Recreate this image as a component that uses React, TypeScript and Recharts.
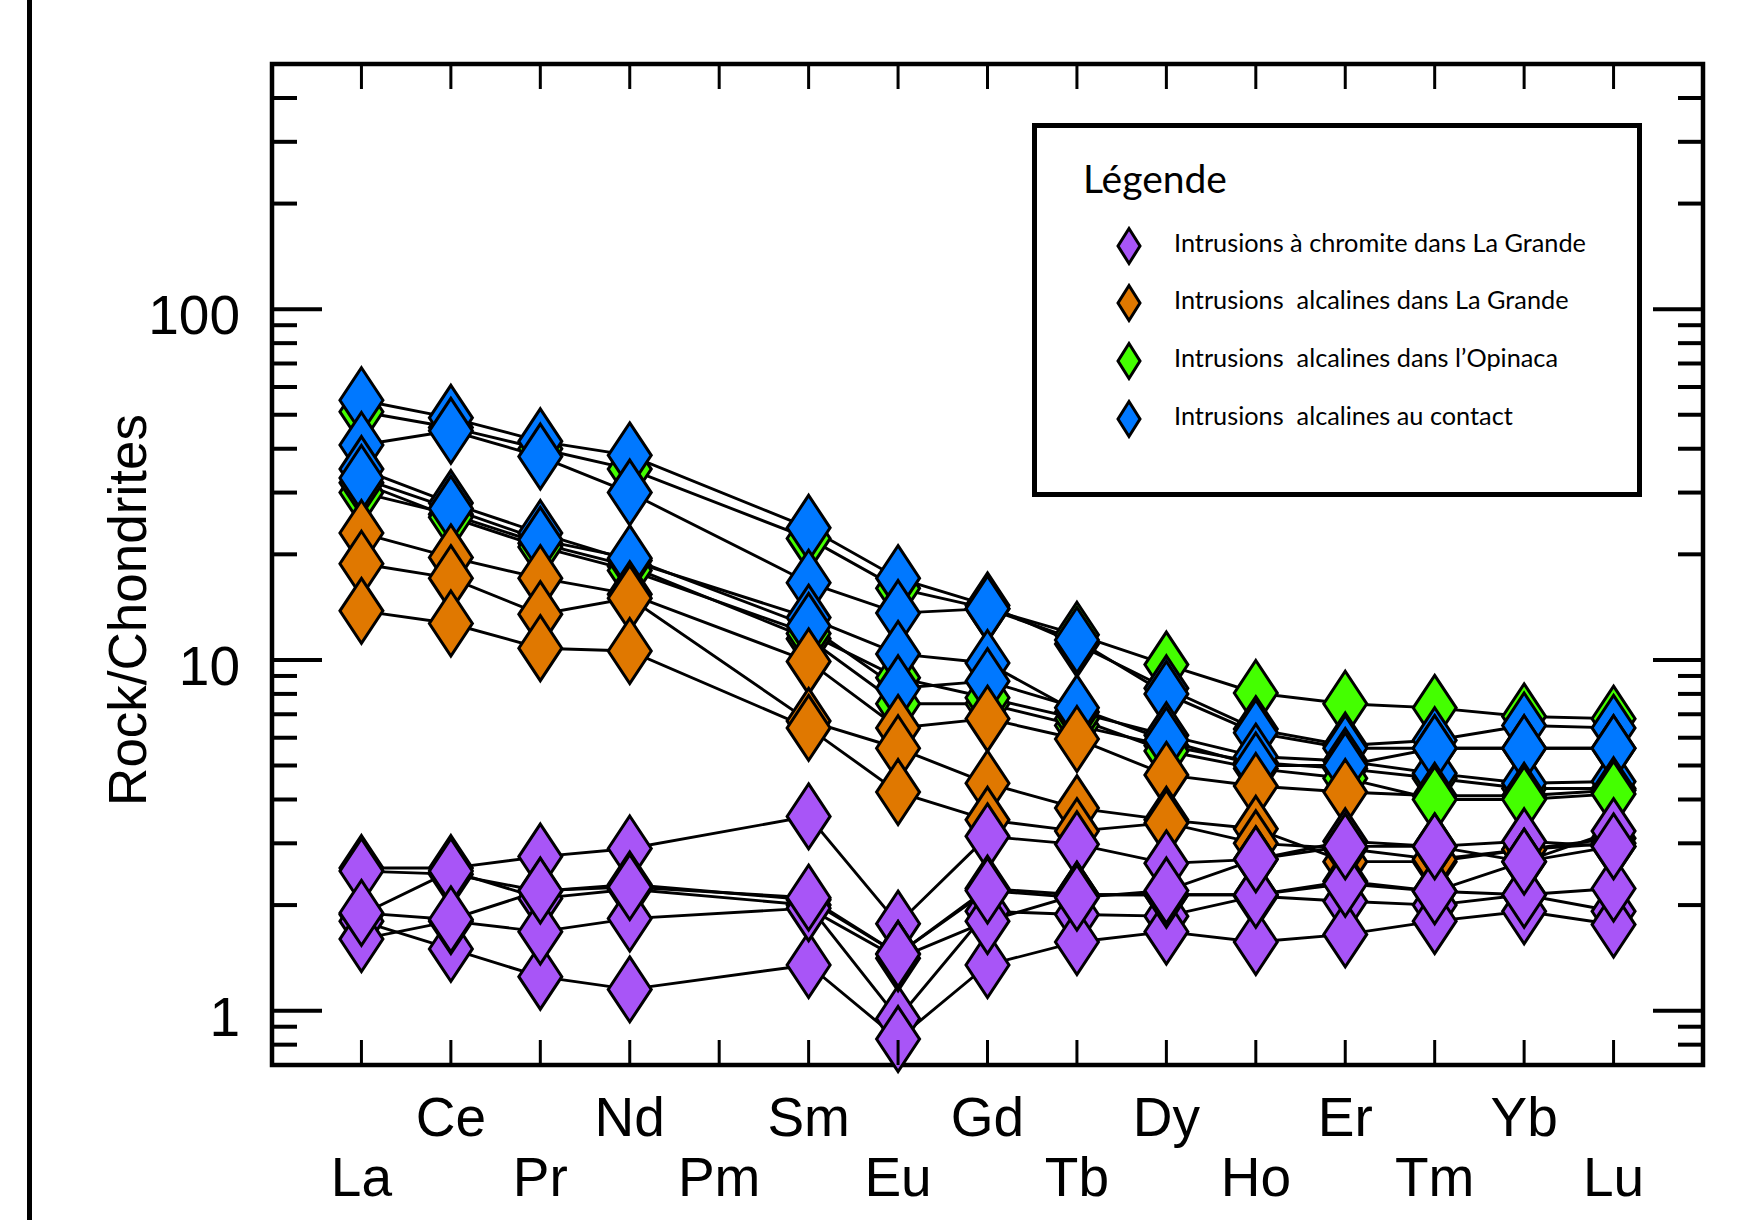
import React from "react";
import { LineChart, Line, XAxis, YAxis, ReferenceArea, Legend } from "recharts";

// plot frame, in page pixels
const PLOT_LEFT = 272;
const PLOT_TOP = 64;
const PLOT_RIGHT = 1703;
const PLOT_BOTTOM = 1065;
const CHART_W = 1754;
const CHART_H = 1220;

const elements = ["La", "Ce", "Pr", "Nd", "Pm", "Sm", "Eu", "Gd", "Tb", "Dy", "Ho", "Er", "Tm", "Yb", "Lu"];

// Rock/Chondrites, Pm not analysed (null)
const chr1 = [2.55, 2.55, 2.75, 2.9, null, 3.58, 1.77, 3.14, 2.98, 2.63, 2.7, 3.04, 2.94, 3.04, 2.94];
const chr2 = [2.5, 2.45, 2.19, 2.29, null, 2.07, 1.45, 2.23, 2.14, 2.14, 2.14, 2.34, 2.19, 2.66, 3.25];
const chr3 = [1.88, 2.5, 2.09, 2.22, null, 2.0, 0.95, 1.92, 1.88, 1.86, 2.12, 2.05, 2.0, 2.14, 1.92];
const chr4 = [1.8, 1.5, 1.25, 1.15, null, 1.35, 0.83, 1.35, 1.57, 1.68, 1.57, 1.65, 1.8, 1.92, 1.76];
const chr5 = [1.6, 1.8, 1.68, 1.83, null, 1.96, 1.41, 1.8, 2.14, 2.14, 2.14, 2.3, 2.19, 2.14, 2.23];
const chr6 = [1.9, 1.82, 2.2, 2.25, null, 2.1, 1.45, 2.2, 2.1, 2.2, 2.7, 2.94, 2.94, 2.66, 2.94];

const alg1 = [23, 19.6, 17.1, 15.4, null, 9.9, 6.4, 6.8, 5.95, 4.7, 4.37, 4.2, 4.1, 4.1, 4.25];
const alg2 = [18.8, 17.1, 13.5, 15.0, null, 6.7, 5.6, 4.45, 3.78, 3.5, 3.3, 2.66, 2.66, 2.88, 3.1];
const alg3 = [13.8, 12.7, 10.8, 10.6, null, 6.4, 4.2, 3.5, 3.25, 3.43, 3.0, 2.9, 2.7, 2.88, 3.0];

const opi1 = [51, 46, 40, 35, null, 22.2, 16, 14, 11.8, 9.7, 8.05, 7.5, 7.3, 6.9, 6.8];
const opi2 = [32, 25.5, 21, 18, null, 11.9, 8.9, 7.8, 6.8, 5.5, 4.9, 4.6, 4.0, 4.0, 4.15];
const opi3 = [30, 26, 21.5, 18.5, null, 11.5, 7.5, 7.5, 6.5, 5.7, 5.1, 4.9, 4.6, 4.3, 4.3];

const con1 = [55, 49, 42, 38.3, null, 23.8, 17.1, 14.3, 11.1, 8.3, 6.35, 5.7, 5.9, 6.5, 6.4];
const con2 = [41, 45, 38, 30, null, 16.6, 13.6, 14.0, 11.4, 8.0, 6.2, 5.6, 5.6, 5.6, 5.6];
const con3 = [35, 28, 23, 19.2, null, 13.2, 10.4, 9.8, 7.1, 6.1, 5.3, 5.15, 4.75, 4.45, 4.5];
const con4 = [33, 27, 22, 19.5, null, 12.5, 8.3, 8.7, 7.3, 5.9, 5.0, 5.0, 5.6, 5.6, 5.6];

const yTicks = [0.8, 0.9, 1, 2, 3, 4, 5, 6, 7, 8, 9, 10, 20, 30, 40, 50, 60, 70, 80, 90, 100, 200, 300, 400];
const yLabels = [1, 10, 100];

const groups = [
  { key: "chr", name: "Intrusions à chromite dans La Grande", color: "#a855f7", samples: [chr1, chr2, chr3, chr4, chr5, chr6] },
  { key: "alg", name: "Intrusions  alcalines dans La Grande", color: "#e07800", samples: [alg1, alg2, alg3] },
  { key: "opi", name: "Intrusions  alcalines dans l\u2019Opinaca", color: "#44ff00", samples: [opi1, opi2, opi3] },
  { key: "con", name: "Intrusions  alcalines au contact", color: "#0078ff", samples: [con1, con2, con3, con4] },
];

// stacking of the markers, bottom first. opi1 (2nd green) comes on top of
// the blue/orange ones only from Tm onwards, like in the original figure
const markerLayers = [
  { g: "opi", s: 0 },
  { g: "opi", s: 2 },
  { g: "opi", s: 1, to: 11 },
  { g: "con", s: 0 },
  { g: "con", s: 1 },
  { g: "con", s: 2 },
  { g: "con", s: 3 },
  { g: "alg", s: 0 },
  { g: "alg", s: 1 },
  { g: "alg", s: 2 },
  { g: "opi", s: 1, from: 12 },
  { g: "chr", s: 0 },
  { g: "chr", s: 1 },
  { g: "chr", s: 2 },
  { g: "chr", s: 3 },
  { g: "chr", s: 4 },
  { g: "chr", s: 5 },
];

const data = elements.map((el, i) => {
  const row: any = { x: i + 1, el };
  groups.forEach((g) => g.samples.forEach((s, j) => (row[`${g.key}${j}`] = s[i])));
  return row;
});

const AXIS_FONT = "'Liberation Sans', Arial, Helvetica, sans-serif";
const LEGEND_FONT = "Lato, 'Open Sans', sans-serif";

const diamond = (color: string, from = 0, to = 99) => (props: any) => {
  const { cx, cy, index, dataKey } = props;
  const k = `${dataKey}-${index}`;
  if (cy == null || isNaN(cy) || index < from || index > to) return <g key={k} />;
  const w = 21.5;
  const h = 32.5;
  return (
    <path
      key={k}
      d={`M${cx},${cy - h}L${cx + w},${cy}L${cx},${cy + h}L${cx - w},${cy}Z`}
      fill={color}
      stroke="#000"
      strokeWidth={3}
    />
  );
};

const XTick = (props: any) => {
  const { x, payload } = props;
  const i = payload.value - 1;
  const upper = i % 2 === 1;
  return (
    <g>
      <line x1={x} y1={PLOT_BOTTOM} x2={x} y2={PLOT_BOTTOM - 25} stroke="#000" strokeWidth={3} />
      <line x1={x} y1={PLOT_TOP} x2={x} y2={PLOT_TOP + 25} stroke="#000" strokeWidth={3} />
      <text x={x} y={PLOT_BOTTOM + (upper ? 71 : 131)} textAnchor="middle" fontSize={55} fontFamily={AXIS_FONT} fill="#000">
        {elements[i]}
      </text>
    </g>
  );
};

const YTick = (props: any) => {
  const { y, payload } = props;
  const major = yLabels.includes(payload.value);
  const len = major ? 50 : 25;
  return (
    <g>
      <line x1={PLOT_LEFT} y1={y} x2={PLOT_LEFT + len} y2={y} stroke="#000" strokeWidth={4} />
      <line x1={PLOT_RIGHT} y1={y} x2={PLOT_RIGHT - len} y2={y} stroke="#000" strokeWidth={4} />
      {major && (
        <text x={240} y={y + 25} textAnchor="end" fontSize={55} fontFamily={AXIS_FONT} fill="#000">
          {payload.value}
        </text>
      )}
    </g>
  );
};

const LegendBox = () => {
  const rows = [123, 180, 238, 296];
  return (
    <svg width={610} height={374} style={{ display: "block" }}>
      <rect x={2.5} y={2.5} width={605} height={369} fill="#fff" stroke="#000" strokeWidth={5} />
      <text x={51} y={70} fontSize={39} fontFamily={LEGEND_FONT} fill="#000">
        Légende
      </text>
      {groups.map((g, i) => {
        const cy = rows[i];
        return (
          <g key={g.key}>
            <path d={`M97,${cy - 17.5}L108,${cy}L97,${cy + 17.5}L86,${cy}Z`} fill={g.color} stroke="#000" strokeWidth={3} />
            <text x={142} y={cy + 6} fontSize={25.3} fontFamily={LEGEND_FONT} fill="#000" style={{ whiteSpace: "pre" }}>
              {g.name}
            </text>
          </g>
        );
      })}
    </svg>
  );
};

const App: React.FC = () => {
  return (
    <div style={{ position: "absolute", left: 0, top: 0, width: CHART_W, height: CHART_H, background: "#fff", overflow: "hidden" }}>
      <div style={{ position: "absolute", left: 27, top: 0, width: 5, height: CHART_H, background: "#000" }} />
      <LineChart
        width={CHART_W}
        height={CHART_H}
        data={data}
        margin={{ top: PLOT_TOP, right: CHART_W - PLOT_RIGHT, bottom: CHART_H - PLOT_BOTTOM - 100, left: 0 }}
      >
        <XAxis
          dataKey="x"
          type="number"
          domain={[0, 16]}
          ticks={elements.map((_, i) => i + 1)}
          interval={0}
          height={100}
          axisLine={false}
          tickLine={false}
          tickSize={0}
          tick={<XTick />}
        />
        <YAxis
          type="number"
          scale="log"
          domain={[0.7, 500]}
          ticks={yTicks}
          interval={0}
          width={PLOT_LEFT}
          axisLine={false}
          tickLine={false}
          tickSize={0}
          tick={<YTick />}
          label={{
            content: () => (
              <text
                x={146}
                y={610}
                transform="rotate(-90 146 610)"
                textAnchor="middle"
                fontSize={53}
                fontFamily={AXIS_FONT}
                fill="#000"
              >
                Rock/Chondrites
              </text>
            ),
          }}
        />
        <ReferenceArea x1={0} x2={16} y1={0.7} y2={500} fill="none" stroke="#000" strokeWidth={4.5} ifOverflow="visible" />
        {groups.map((g) =>
          g.samples.map((_, j) => (
            <Line
              key={`line-${g.key}${j}`}
              dataKey={`${g.key}${j}`}
              stroke="#000"
              strokeWidth={2.9}
              dot={false}
              activeDot={false}
              connectNulls
              isAnimationActive={false}
              legendType="none"
            />
          ))
        )}
        {markerLayers.map((m, n) => {
          const g = groups.find((gr) => gr.key === m.g)!;
          return (
            <Line
              key={`dot-${n}`}
              dataKey={`${g.key}${m.s}`}
              stroke="none"
              dot={diamond(g.color, m.from, m.to)}
              activeDot={false}
              connectNulls
              isAnimationActive={false}
              legendType="none"
            />
          );
        })}
        <Legend
          layout="horizontal"
          verticalAlign="middle"
          align="center"
          content={() => <LegendBox />}
          wrapperStyle={{ position: "absolute", left: 1032, top: 123, width: 610, height: 374 }}
        />
      </LineChart>
    </div>
  );
};

export default App;
